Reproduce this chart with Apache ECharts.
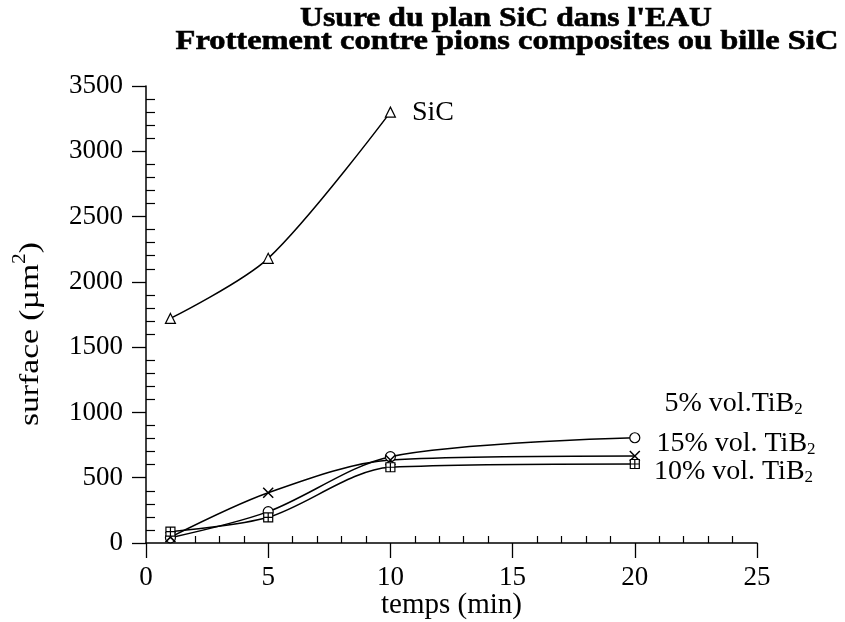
<!DOCTYPE html>
<html>
<head>
<meta charset="utf-8">
<title>Usure du plan SiC dans l'EAU</title>
<script src="https://cdn.jsdelivr.net/npm/echarts@6/dist/echarts.min.js"></script>
<style>
  html, body { margin: 0; padding: 0; background: #ffffff; }
  #chart { width: 845px; height: 622px; }
</style>
</head>
<body>
<div id="chart"></div>
<script>
// Durées d'essai (min) et surfaces usées (µm²)
const timeSiC = [1, 5, 10];
const wearSiC = [1720, 2180, 3300];

const timeComposite = [1, 5, 10, 20];
const wear5 = [45, 385, 636, 666];    // 5% vol. TiB2
const wear10 = [87, 197, 580, 605];   // 10% vol. TiB2
const wear15 = [40, 240, 661, 806];   // 15% vol. TiB2

const xTicks = [0, 5, 10, 15, 20, 25];
const yTicks = [0, 500, 1000, 1500, 2000, 2500, 3000, 3500];

const titleLines = ["Usure du plan SiC dans l'EAU", 'Frottement contre pions composites ou bille SiC'];

const SERIF = "'Liberation Serif', 'Times New Roman', serif";

const chart = echarts.init(document.getElementById('chart'), null, { renderer: 'canvas' });

// Main text + lowered subscript "2"
const richLabel = {
  n: { fontFamily: SERIF, fontSize: 28, lineHeight: 28, verticalAlign: 'middle', color: '#000' },
  s: { fontFamily: SERIF, fontSize: 17, lineHeight: 28, verticalAlign: 'bottom', color: '#000' }
};

// Builds [x, y] pairs; the last point can carry an end label
function pairs(xs, ys, endLabel) {
  return xs.map((x, i) => {
    if (endLabel && i === xs.length - 1) {
      return { value: [x, ys[i]], label: endLabel };
    }
    return [x, ys[i]];
  });
}

function tibLabel(text, dx, dy) {
  return {
    show: true,
    position: 'right',
    distance: 0,
    offset: [dx, dy],
    formatter: '{n|' + text + '}{s|2}',
    rich: richLabel
  };
}

const lineBase = {
  type: 'line',
  smooth: 0.3,
  symbolSize: 10,
  showSymbol: true,
  lineStyle: { color: '#000', width: 1.5 },
  emphasis: { disabled: true },
  z: 3
};

const titleStyle = {
  font: "bold 28px 'Liberation Serif', serif",
  fill: '#000', stroke: '#000', lineWidth: 0.6,
  align: 'center', verticalAlign: 'middle'
};

const option = {
  animation: false,
  backgroundColor: '#ffffff',
  grid: { left: 146, right: 88, top: 86, bottom: 79, containLabel: false, outerBoundsMode: 'none' },
  xAxis: {
    type: 'value',
    min: xTicks[0],
    max: xTicks[xTicks.length - 1],
    interval: 5,
    name: 'temps (min)',
    nameLocation: 'middle',
    nameGap: 48,
    nameMoveOverlap: false,
    nameTextStyle: { fontFamily: SERIF, fontSize: 29, color: '#000', verticalAlign: 'top' },
    axisLine: { show: true, onZero: false, lineStyle: { color: '#000', width: 1.5 } },
    axisTick: { show: true, inside: false, length: 15, lineStyle: { color: '#000', width: 1.3 } },
    minorTick: { show: true, splitNumber: 5, length: -7, lineStyle: { color: '#000', width: 1.2 } },
    axisLabel: { margin: 21, fontFamily: SERIF, fontSize: 27, color: '#000' },
    splitLine: { show: false },
    minorSplitLine: { show: false }
  },
  yAxis: {
    type: 'value',
    min: yTicks[0],
    max: yTicks[yTicks.length - 1],
    interval: 500,
    axisLine: { show: true, onZero: false, lineStyle: { color: '#000', width: 1.5 } },
    axisTick: { show: true, inside: false, length: 14, lineStyle: { color: '#000', width: 1.3 } },
    minorTick: { show: true, splitNumber: 5, length: -9, lineStyle: { color: '#000', width: 1.2 } },
    axisLabel: {
      margin: 23, fontFamily: SERIF, fontSize: 27, color: '#000',
      formatter: (v) => String(v)
    },
    splitLine: { show: false },
    minorSplitLine: { show: false }
  },
  graphic: [
    {
      type: 'text', x: 506, y: 19, scaleX: 1.13,
      style: Object.assign({ text: titleLines[0] }, titleStyle)
    },
    {
      type: 'text', x: 507, y: 42, scaleX: 1.16,
      style: Object.assign({ text: titleLines[1] }, titleStyle)
    },
    {
      type: 'text', x: 28, y: 334, rotation: Math.PI / 2, scaleX: 1.2,
      style: {
        text: '{n|surface (µm}{s|2}{n|)}',
        rich: {
          n: { fontFamily: SERIF, fontSize: 28, lineHeight: 34, verticalAlign: 'bottom', fill: '#000' },
          s: { fontFamily: SERIF, fontSize: 18, lineHeight: 34, verticalAlign: 'top', fill: '#000' }
        },
        align: 'center', verticalAlign: 'middle'
      }
    }
  ],
  series: [
    Object.assign({}, lineBase, {
      name: 'SiC',
      symbol: 'triangle',
      itemStyle: { color: '#fff', borderColor: '#000', borderWidth: 1.2 },
      data: pairs(timeSiC, wearSiC, {
        show: true, position: 'right', distance: 0, offset: [16, 1],
        formatter: 'SiC', fontFamily: SERIF, fontSize: 28, color: '#000'
      })
    }),
    Object.assign({}, lineBase, {
      name: '15% vol. TiB2',
      symbol: 'circle',
      itemStyle: { color: '#fff', borderColor: '#000', borderWidth: 1.2 },
      data: pairs(timeComposite, wear15, tibLabel('15% vol. TiB', 16, 6))
    }),
    Object.assign({}, lineBase, {
      name: '5% vol. TiB2',
      symbol: 'path://M0,0L10,10M10,0L0,10',
      itemStyle: { color: '#000', borderColor: '#000', borderWidth: 1.5 },
      data: pairs(timeComposite, wear5, tibLabel('5% vol.TiB', 24, -52))
    }),
    Object.assign({}, lineBase, {
      name: '10% vol. TiB2',
      symbol: 'path://M0,0H10V10H0ZM5,0V10M0,5H10',
      symbolSize: 9,
      itemStyle: { color: '#fff', borderColor: '#000', borderWidth: 1.2 },
      data: pairs(timeComposite, wear10, tibLabel('10% vol. TiB', 14, 8))
    })
  ]
};

chart.setOption(option);
</script>
</body>
</html>
